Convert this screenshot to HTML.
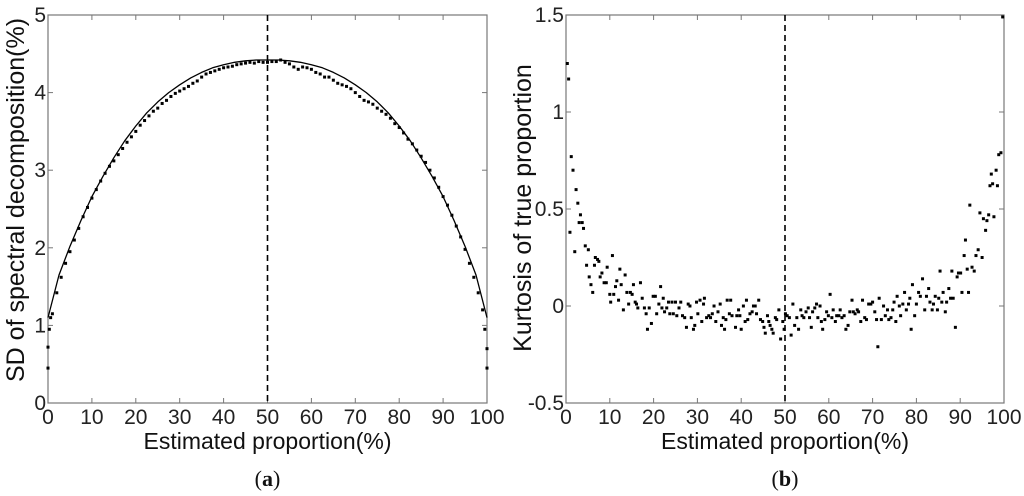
<!DOCTYPE html>
<html><head><meta charset="utf-8"><style>
body{margin:0;background:#fff;}
svg{display:block;font-family:"Liberation Sans",Arial,sans-serif;}
</style></head><body>
<svg id="fig" width="1024" height="496" viewBox="0 0 1024 496"></svg>
<script>
// Panel (a) data
const curveX = [0,2.5,5,7.5,10,12.5,15,17.5,20,22.5,25,27.5,30,32.5,35,37.5,40,42.5,45,47.5,50,52.5,55,57.5,60,62.5,65,67.5,70,72.5,75,77.5,80,82.5,85,87.5,90,92.5,95,97.5,100];
const curveY = [1.1,1.65,2.02,2.35,2.66,2.92,3.16,3.38,3.57,3.74,3.88,4.0,4.1,4.19,4.26,4.32,4.36,4.39,4.41,4.42,4.42,4.42,4.41,4.39,4.36,4.32,4.26,4.19,4.1,4.0,3.88,3.74,3.57,3.38,3.16,2.92,2.66,2.35,2.02,1.65,1.1];
const sdX = [0,0,0.3,0.6,1,2,3,4,5,6,7,8,9,10,11,12,13,14,15,16,17,18,19,20,21,22,23,24,25,26,27,28,29,30,31,32,33,34,35,36,37,38,39,40,41,42,43,44,45,46,47,48,49,50,51,52,53,54,55,56,57,58,59,60,61,62,63,64,65,66,67,68,69,70,71,72,73,74,75,76,77,78,79,80,81,82,83,84,85,86,87,88,89,90,91,92,93,94,95,96,97,98,99,99.5,100,100];
const sdY = [0.45,0.72,0.95,1.1,1.15,1.42,1.62,1.8,1.95,2.1,2.25,2.4,2.52,2.64,2.75,2.86,2.96,3.05,3.12,3.2,3.28,3.36,3.43,3.5,3.58,3.64,3.7,3.76,3.8,3.86,3.9,3.95,3.99,4.02,4.05,4.08,4.12,4.15,4.2,4.24,4.26,4.28,4.3,4.32,4.33,4.34,4.36,4.37,4.38,4.39,4.38,4.4,4.39,4.39,4.4,4.4,4.42,4.39,4.37,4.33,4.3,4.33,4.32,4.3,4.26,4.24,4.2,4.2,4.16,4.12,4.1,4.08,4.05,4.0,3.95,3.9,3.88,3.85,3.8,3.76,3.72,3.67,3.6,3.55,3.48,3.4,3.34,3.26,3.18,3.1,3.0,2.9,2.78,2.66,2.55,2.42,2.28,2.14,1.98,1.8,1.62,1.42,1.2,0.95,0.7,0.45];
const aXTicks = [0,10,20,30,40,50,60,70,80,90,100];
const aYTicks = [0,1,2,3,4,5];
// Panel (b) data
const kX = [0.3,0.6,0.9,1.2,1.6,2.0,2.3,2.7,3.0,3.3,3.7,4.0,4.4,4.7,5.1,5.3,5.7,6.1,6.5,6.7,7.2,7.5,7.8,8.2,8.7,9.2,9.4,10,10.2,10.6,10.9,11.3,11.6,12,12.3,12.6,13.1,13.5,13.9,14.3,14.7,15.1,15.4,15.8,16.1,16.4,17,17.4,17.9,18.3,18.6,19,19.5,19.9,20.4,20.7,21.2,21.6,21.9,22.2,22.5,23,23.4,23.7,24.2,24.5,25,25.3,25.8,26.2,26.6,27.1,27.5,27.9,28.3,28.6,29.1,29.4,29.8,30.1,30.6,31,31.4,31.6,32.1,32.6,33,33.4,33.8,34.2,34.7,35.2,35.5,35.9,36.2,36.5,36.8,37.3,37.6,37.9,38.7,39,39.4,39.7,40,40.5,40.9,41.2,41.5,42,42.5,42.8,43.2,43.5,44,44.4,44.9,45.2,45.5,46,46.3,46.6,47,47.3,47.8,48.1,48.6,49,49.5,49.8,50.1,50.5,51,51.4,51.8,52.2,52.7,53.1,53.6,53.9,54.3,54.8,55.3,55.6,56,56.3,56.8,57.2,57.5,58,58.3,58.6,59.1,59.5,59.9,60.3,60.7,61,61.5,61.8,62.3,62.6,63,63.5,63.9,64.4,64.8,65.3,65.6,66,66.5,66.8,67.3,67.7,68.2,68.6,69.1,69.6,70,70.5,70.9,71.2,71.5,72,72.5,72.9,73.4,73.7,74.2,74.6,74.9,75.3,75.6,76.1,76.4,76.9,77.3,77.7,78.2,78.5,78.8,79.1,79.6,80,80.5,80.9,81.4,81.9,82.3,82.8,83.1,83.6,83.9,84.3,84.8,85.1,85.4,85.8,86.1,86.6,86.9,87.4,87.8,88.1,88.4,88.9,89.3,89.6,90.1,90.4,90.9,91.2,91.6,91.9,92.2,92.7,93.2,93.6,94.1,94.5,95,95.3,95.8,96.1,96.5,96.8,97.1,97.4,97.7,98.2,98.5,98.8,99.3,99.7];
const kY = [1.25,1.17,0.38,0.77,0.70,0.28,0.60,0.53,0.43,0.47,0.43,0.40,0.31,0.21,0.29,0.15,0.11,0.07,0.21,0.25,0.24,0.23,0.15,0.17,0.12,0.12,0.20,0.06,0.02,0.26,0.06,0.10,0.13,0.03,0.19,0.11,-0.02,0.16,0.07,0.01,0.07,0.06,0.11,0.02,0.01,-0.01,0.12,0.04,-0.01,-0.04,-0.12,-0.01,-0.09,0.05,0.05,-0.04,0.01,0.10,-0.01,0.04,-0.03,-0.01,0.02,-0.04,0.02,-0.04,0.02,-0.05,-0.01,0.02,-0.05,-0.06,-0.11,0.01,0.00,-0.06,-0.12,-0.10,0.02,-0.04,0.03,-0.08,0.01,0.04,-0.06,-0.05,-0.06,-0.04,0.00,-0.08,-0.03,0.01,-0.10,-0.06,-0.12,-0.07,0.03,-0.04,0.03,-0.05,-0.11,-0.05,-0.02,-0.05,-0.12,0.00,-0.08,0.03,-0.07,-0.04,-0.03,0.00,0.00,-0.04,0.03,-0.07,-0.08,-0.11,-0.14,-0.05,-0.08,-0.10,-0.12,-0.14,-0.06,-0.07,-0.02,-0.17,-0.08,-0.12,-0.04,-0.05,-0.06,-0.15,0.01,-0.10,-0.06,-0.12,-0.02,-0.05,-0.06,-0.03,-0.01,-0.06,-0.11,-0.03,-0.01,0.01,-0.06,0.00,-0.08,-0.12,-0.07,-0.03,-0.05,0.06,-0.06,-0.02,-0.08,-0.05,-0.05,-0.02,-0.06,-0.05,-0.12,-0.10,-0.03,0.03,-0.03,-0.04,-0.02,-0.03,-0.08,0.03,-0.06,-0.07,0.01,0.01,0.02,-0.03,-0.07,-0.21,0.04,-0.07,0.00,-0.05,-0.02,-0.07,-0.06,-0.02,0.02,-0.08,0.05,0.00,-0.05,0.01,0.07,-0.02,0.01,0.04,-0.12,0.11,-0.05,0.01,0.07,0.05,0.14,-0.02,0.05,0.09,0.02,-0.02,0.01,0.05,-0.02,0.04,0.18,0.02,0.07,-0.03,0.02,0.09,0.04,0.18,0.04,-0.11,0.15,0.17,0.17,0.07,0.26,0.34,0.19,0.07,0.52,0.20,0.18,0.26,0.29,0.48,0.25,0.45,0.39,0.44,0.47,0.62,0.68,0.63,0.46,0.70,0.62,0.78,0.79,1.49];
const bXTicks = [0,10,20,30,40,50,60,70,80,90,100];
const bYTicks = [-0.5,0,0.5,1,1.5];

const NS='http://www.w3.org/2000/svg';
const svg=document.getElementById('fig');
function el(tag,attrs,parent){const e=document.createElementNS(NS,tag);for(const k in attrs)e.setAttribute(k,attrs[k]);(parent||svg).appendChild(e);return e;}

function panel(opt){
  const g=el('g',{});
  
  
  const L=opt.x0,R=opt.x1,T=15,B=403;
  const sx=v=>L+(v-opt.xmin)/(opt.xmax-opt.xmin)*(R-L);
  const sy=v=>B-(v-opt.ymin)/(opt.ymax-opt.ymin)*(B-T);
  const frame=el('rect',{x:L,y:T,width:R-L,height:B-T,fill:'none',stroke:'#777','stroke-width':1.2},g);
  
  
  opt.xt.forEach(t=>{
    const x=sx(t);
    el('line',{x1:x,y1:B,x2:x,y2:B-5,stroke:'#777'},g);
    el('line',{x1:x,y1:T,x2:x,y2:T+5,stroke:'#777'},g);
    const tx=el('text',{x:x,y:B+21,'text-anchor':'middle','font-size':21,fill:'#222'},g);
    tx.textContent=t;
    
    
  });
  opt.yt.forEach(t=>{
    const y=sy(t);
    el('line',{x1:L,y1:y,x2:L+5,y2:y,stroke:'#777'},g);
    el('line',{x1:R,y1:y,x2:R-5,y2:y,stroke:'#777'},g);
    const ty=el('text',{x:L-2,y:y+7,'text-anchor':'end','font-size':21,fill:'#222'},g);
    ty.textContent=t;
    
    
  });
  const dl=el('line',{x1:sx(50),y1:T,x2:sx(50),y2:B,stroke:'#000','stroke-width':1.6,'stroke-dasharray':'6,4'},g);
  
  
  if(opt.cx){
    const d=opt.cx.map((v,i)=>(i?'L':'M')+sx(v).toFixed(1)+','+sy(opt.cy[i]).toFixed(1)).join('');
    const p=el('path',{d:d,fill:'none',stroke:'#000','stroke-width':1.3,'stroke-linejoin':'round'},g);
    
    
  }
  opt.px.forEach((v,i)=>{
    const c=el('rect',{x:sx(v)-1.5,y:sy(opt.py[i])-1.5,width:3,height:3,fill:'#000'},g);
    
    
  });
  const xl=el('text',{x:(L+R)/2,y:449,'text-anchor':'middle','font-size':23,fill:'#111'},g);
  xl.textContent='Estimated proportion(%)';
  
  
  const yl=el('text',{x:0,y:0,'text-anchor':'middle','font-size':opt.ylfs,fill:'#111',transform:'translate('+opt.ylx+','+opt.yly+') rotate(-90)'},g);
  yl.textContent=opt.ylabel;
  
  
  const cap=el('text',{x:(L+R)/2,y:486,'text-anchor':'middle','font-size':22,fill:'#111','font-family':'Liberation Serif, serif'},g);
  cap.innerHTML='(<tspan font-weight="bold">'+opt.cap+'</tspan>)';
  
  
}
panel({name:'panel-a',x0:48,x1:487,xmin:0,xmax:100,ymin:0,ymax:5,xt:aXTicks,yt:aYTicks,cx:curveX,cy:curveY,px:sdX,py:sdY,ylabel:'SD of spectral decomposition(%)',ylx:24,yly:200,ylfs:25,cap:'a'});
panel({name:'panel-b',x0:566,x1:1004,xmin:0,xmax:100,ymin:-0.5,ymax:1.5,xt:bXTicks,yt:bYTicks,px:kX,py:kY,ylabel:'Kurtosis of true proportion',ylx:531,yly:208,ylfs:25,cap:'b'});
</script>
</body></html>
